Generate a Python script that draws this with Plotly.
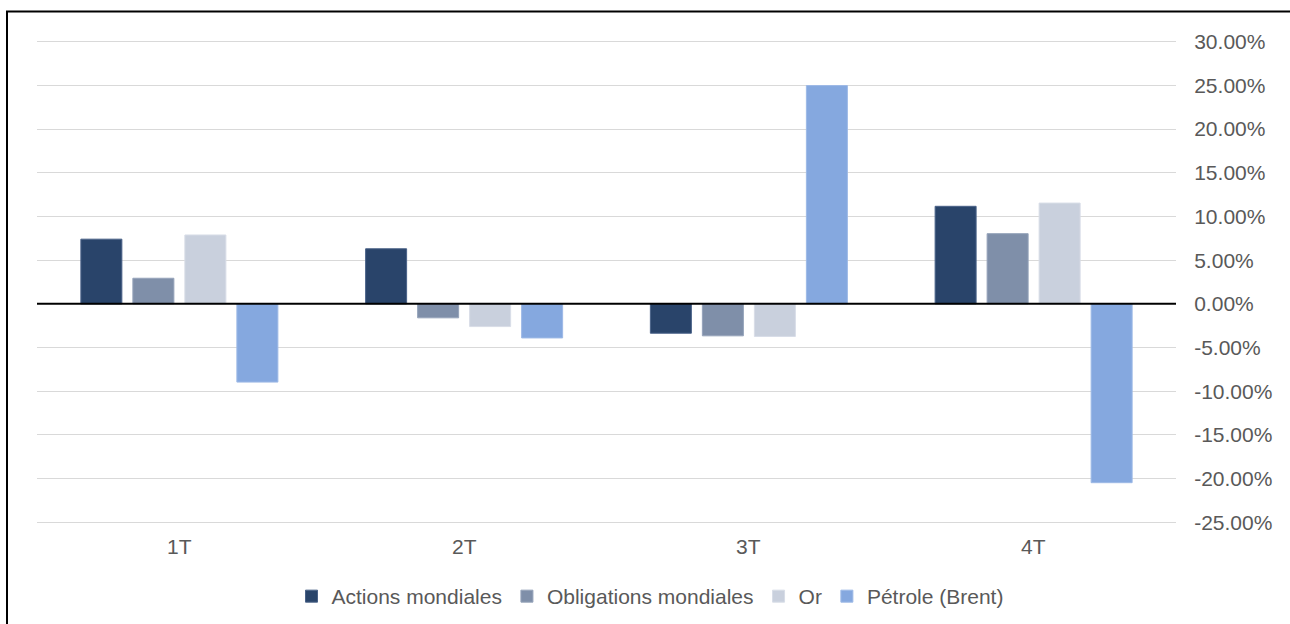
import plotly.graph_objects as go

categories = ["1T", "2T", "3T", "4T"]
series_names = ["Actions mondiales", "Obligations mondiales", "Or", "Pétrole (Brent)"]
actions = [7.40, 6.30, -3.36, 11.16]
obligations = [2.93, -1.60, -3.66, 8.03]
gold = [7.88, -2.60, -3.73, 11.53]
brent = [-8.95, -3.90, 24.97, -20.46]
y_ticks = [30, 25, 20, 15, 10, 5, 0, -5, -10, -15, -20, -25]

colors = ["#29446A", "#7F8FA9", "#C9D0DD", "#85A8DF"]
outline = ["#4A6288", "#95A3BA", "#D8DDE7", "#9DB9E6"]
values = [actions, obligations, gold, brent]

W, H = 1290, 624
PX = 480 / 55.0          # pixels per percent
pad_u = 0.3              # extra range so edge gridlines show
y_lo, y_hi = -25 - pad_u, 30 + pad_u
L, R = 37, 114
T = 42 - pad_u * PX
ph = (y_hi - y_lo) * PX
B = H - T - ph
pw = W - L - R

fig = go.Figure()
for name, vals, c, oc in zip(series_names, values, colors, outline):
    fig.add_trace(go.Bar(
        x=categories, y=vals, name=name,
        marker=dict(color=c, line=dict(color=oc, width=1)),
    ))

font_family = "Liberation Sans, Arial, sans-serif"
txt = "#595959"

annotations = [
    dict(x=c, y=y_ticks[-1], xref="x", yref="y", text=c, showarrow=False, yshift=-24,
         font=dict(family=font_family, size=21, color=txt), xanchor="center", yanchor="middle")
    for c in categories
]

def py(pix):
    return (T + ph - pix) / ph

shapes = [
    dict(type="line", xref="paper", yref="y", x0=0, x1=1, y0=0, y1=0,
         line=dict(color="black", width=2), layer="above"),
    dict(type="rect", xref="paper", yref="paper",
         x0=(7 - L) / pw, x1=(1310 - L) / pw,
         y0=py(640), y1=py(12),
         line=dict(color="black", width=2), fillcolor="rgba(0,0,0,0)", layer="above"),
]

fig.update_layout(
    width=W, height=H, autosize=False,
    margin=dict(l=L, r=R, t=T, b=B, pad=0, autoexpand=False),
    paper_bgcolor="white", plot_bgcolor="white",
    barmode="group", bargap=0.2695, bargroupgap=0.2115,
    font=dict(family=font_family, color=txt, size=21),
    xaxis=dict(showticklabels=False, showgrid=False, zeroline=False, showline=False,
               ticks=""),
    yaxis=dict(side="right", range=[y_lo, y_hi], tickvals=y_ticks,
               ticktext=[f"{v:.2f}%" for v in y_ticks],
               showgrid=True, gridcolor="#D9D9D9", gridwidth=1.3,
               zeroline=False, showline=False,
               ticks="outside", ticklen=13, tickcolor="rgba(0,0,0,0)",
               tickfont=dict(family=font_family, size=21, color=txt)),
    showlegend=True,
    legend=dict(orientation="h", x=(650 - L) / pw, xanchor="center",
                y=py(596), yanchor="middle",
                font=dict(family=font_family, size=21, color=txt),
                itemwidth=30, traceorder="normal", bgcolor="rgba(0,0,0,0)"),
    annotations=annotations,
    shapes=shapes,
)

fig.write_html("out.html")
